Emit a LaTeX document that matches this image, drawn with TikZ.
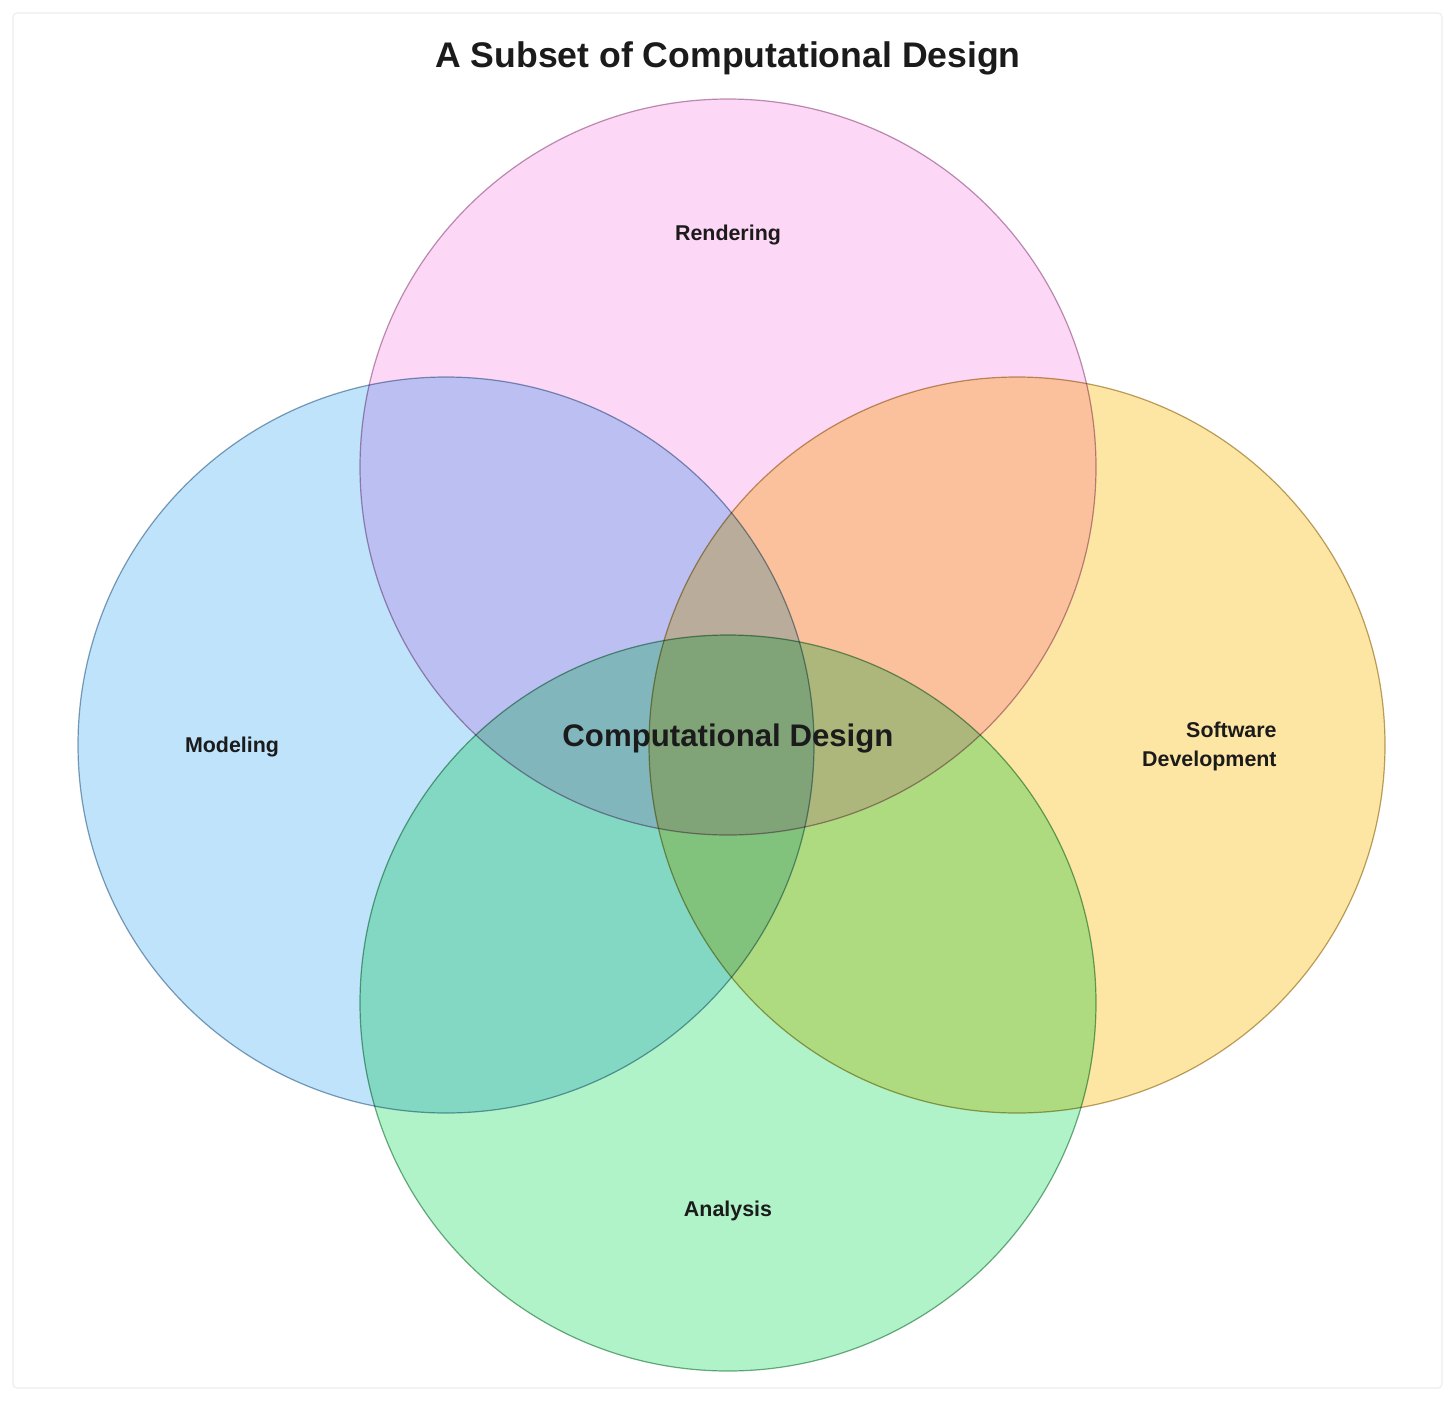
\documentclass[tikz,border=0pt]{standalone}
\usepackage{fontspec}
\setmainfont{Liberation Sans}
\definecolor{modfill}{HTML}{BEE3FB}
\definecolor{renfill}{HTML}{FDD7F6}
\definecolor{softfill}{HTML}{FDE6A3}
\definecolor{anafill}{HTML}{B0F3C8}
\definecolor{modedge}{HTML}{86A2B8}
\definecolor{renedge}{HTML}{BC96B3}
\definecolor{softedge}{HTML}{BBA56C}
\definecolor{anaedge}{HTML}{76AC8A}
\definecolor{ink}{HTML}{1B1B1B}
\definecolor{frame}{HTML}{EEEEEE}
\begin{document}
\begin{tikzpicture}[x=0.5pt,y=-0.5pt,
  setcircle/.style={circle, minimum size=368pt, inner sep=0pt, line width=0.6pt, blend mode=multiply},
  smalllabel/.style={font=\fontsize{10.7}{14.5}\selectfont\bfseries, text=ink, inner sep=0pt},
]
\useasboundingbox (0,0) rectangle (1456,1402);
\fill[white] (0,0) rectangle (1456,1402);
\draw[frame, line width=0.6pt, rounded corners=2pt] (13,13) rectangle (1442,1388);

\node[setcircle, fill=renfill, draw=renedge] (ren) at (728,467) {};
\node[setcircle, fill=modfill, draw=modedge] (mod) at (446,745) {};
\node[setcircle, fill=softfill, draw=softedge] (soft) at (1017,745) {};
\node[setcircle, fill=anafill, draw=anaedge] (ana) at (728,1003) {};

\node[font=\fontsize{17.8}{20}\selectfont\bfseries, text=ink, inner sep=0pt] (title) at (728,58) {A Subset of Computational Design};
\node[smalllabel] (lren) at (728,235) {Rendering};
\node[smalllabel] (lmod) at (232,747) {Modeling};
\node[smalllabel] (lana) at (728,1211) {Analysis};
\node[smalllabel, align=right, anchor=east] (lsoft) at (1277,746) {Software\\Development};
\node[font=\fontsize{15.6}{18}\selectfont\bfseries, text=ink, inner sep=0pt] (center) at (728,738) {Computational Design};
\end{tikzpicture}
\end{document}
